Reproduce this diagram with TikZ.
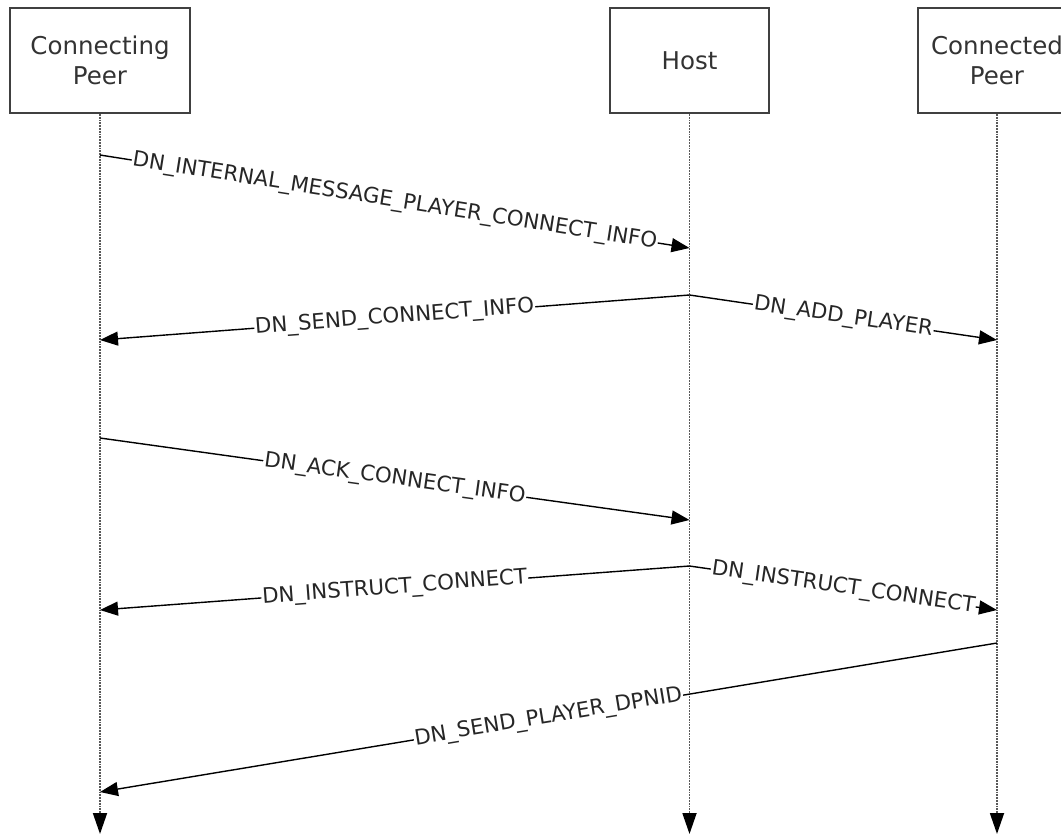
\documentclass[tikz,border=0pt]{standalone}
\usepackage{fontspec}
\setmainfont{DejaVu Sans}
\usetikzlibrary{arrows.meta, positioning}

\begin{document}
\begin{tikzpicture}[x=1pt, y=-1pt,
	actor/.style={draw=black!75, line width=2pt, minimum height=105pt, align=center, text=black!80, font=\fontsize{24.5}{30}\selectfont},
	life/.style={draw=black!65, densely dotted, line width=1.8pt, -{Triangle[length=21pt, width=14pt, color=black]}},
	msg/.style={draw=black, line width=1.4pt, -{Triangle[length=18pt, width=14pt]}},
	lbl/.style={fill=white, sloped, inner sep=1pt, text=black!85, font=\fontsize{21.3}{25}\selectfont}]
		\useasboundingbox (0,0) rectangle (1061,836);

		\node[actor, minimum width=180pt] (cpeer) at (100,60.5) {Connecting\\Peer};
		\node[actor, minimum width=159pt, right=418pt of cpeer] (host) {Host};
		\node[actor, minimum width=158pt, right=147pt of host] (dpeer) {Connected\\Peer};

		\coordinate (cpEnd) at (cpeer.south |- 0,834);
		\coordinate (hostEnd) at (host.south |- 0,834);
		\coordinate (dpEnd) at (dpeer.south |- 0,834);

		\draw[life] (cpeer) -- (cpEnd);
		\draw[life] (host) -- (hostEnd);
		\draw[life] (dpeer) -- (dpEnd);

		\coordinate (cpA) at (cpeer.south |- 0,155);
		\coordinate (hostA) at (host.south |- 0,248);
		\coordinate (hostB) at (host.south |- 0,295);
		\coordinate (cpB) at (cpeer.south |- 0,340);
		\coordinate (dpB) at (dpeer.south |- 0,340);
		\coordinate (cpC) at (cpeer.south |- 0,438);
		\coordinate (hostC) at (host.south |- 0,520);
		\coordinate (hostD) at (host.south |- 0,566);
		\coordinate (cpD) at (cpeer.south |- 0,610);
		\coordinate (dpD) at (dpeer.south |- 0,610);
		\coordinate (dpE) at (dpeer.south |- 0,643);
		\coordinate (cpE) at (cpeer.south |- 0,792);

		\draw[msg] (cpA) -- node[lbl] {DN\_INTERNAL\_MESSAGE\_PLAYER\_CONNECT\_INFO} (hostA);
		\draw[msg] (hostB) -- node[lbl] {DN\_SEND\_CONNECT\_INFO} (cpB);
		\draw[msg] (hostB) -- node[lbl] {DN\_ADD\_PLAYER} (dpB);
		\draw[msg] (cpC) -- node[lbl] {DN\_ACK\_CONNECT\_INFO} (hostC);
		\draw[msg] (hostD) -- node[lbl] {DN\_INSTRUCT\_CONNECT} (cpD);
		\draw[msg] (hostD) -- node[lbl] {DN\_INSTRUCT\_CONNECT} (dpD);
		\draw[msg] (dpE) -- node[lbl] {DN\_SEND\_PLAYER\_DPNID} (cpE);

	\end{tikzpicture}
\end{document}
